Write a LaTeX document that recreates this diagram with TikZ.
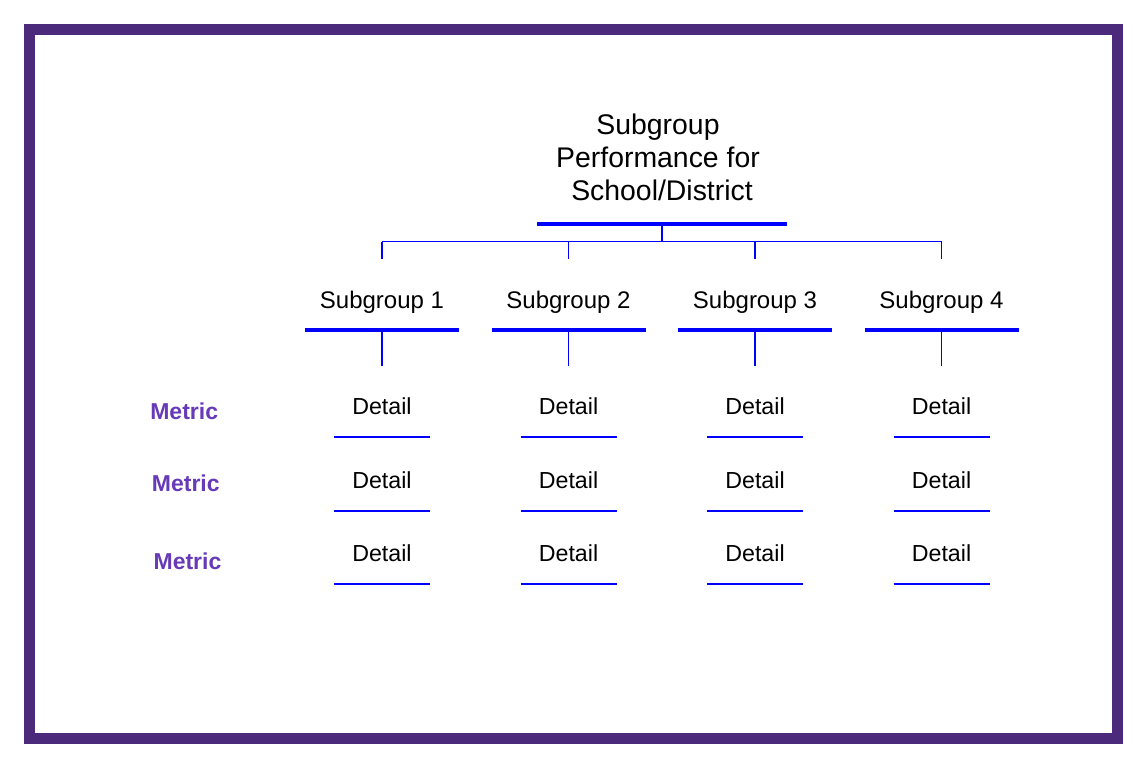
\documentclass[tikz,border=0pt]{standalone}
\usepackage{fontspec}
\setmainfont{Liberation Sans}
\definecolor{framec}{RGB}{75,42,123}
\definecolor{metricc}{RGB}{103,58,183}
\definecolor{linec}{RGB}{0,0,255}
\begin{document}
\begin{tikzpicture}[x=1pt,y=-1pt,
  txt/.style={anchor=base,inner sep=0pt,text=black},
  titletxt/.style={txt,font=\fontsize{28.4}{33}\selectfont},
  sgtxt/.style={txt,font=\fontsize{24}{29}\selectfont},
  dettxt/.style={txt,font=\fontsize{23.2}{28}\selectfont},
  mettxt/.style={anchor=base,inner sep=0pt,text=metricc,font=\fontsize{23}{28}\selectfont\bfseries},
  bigbar/.style={draw=linec,line width=4pt},
  thin/.style={draw=linec,line width=1.2pt},
  detbar/.style={draw=linec,line width=1.8pt}]
\useasboundingbox (0,0) rectangle (1147,769);
\fill[white] (0,0) rectangle (1147,769);
\draw[framec,line width=11pt] (29.5,29.5) rectangle (1117,738.5);
% title
\node[titletxt] (title1) at (658,134) {Subgroup};
\node[titletxt] (title2) at (658,167) {Performance for};
\node[titletxt] (title3) at (662,200) {School/District};
\coordinate (tbl) at (537,223.7);
\coordinate (tbr) at (787,223.7);
\coordinate (tb) at (662,223.7);
\draw[bigbar] (tbl) -- (tbr);
\coordinate (bus) at (662,241.7);
\draw[thin] (tb) -- (bus);
\coordinate (busl) at (382,241.7);
\coordinate (busr) at (941.5,241.7);
\draw[thin] (busl) -- (busr);
% columns
\foreach \i/\x in {1/382,2/568.5,3/755,4/941.5}{
  \coordinate (top\i) at (\x,241.7);
  \coordinate (drop\i) at (\x,259);
  \draw[thin] (top\i) -- (drop\i);
  \node[sgtxt] (sg\i) at (\x,308.3) {Subgroup \i};
  \coordinate (sgl\i) at (\x-77,330.3);
  \coordinate (sgr\i) at (\x+77,330.3);
  \coordinate (sgb\i) at (\x,330.3);
  \coordinate (sgd\i) at (\x,365.7);
  \draw[bigbar] (sgl\i) -- (sgr\i);
  \draw[thin] (sgb\i) -- (sgd\i);
  \foreach \r/\b/\l in {1/414.3/437.3,2/488.3/510.7,3/561.7/584}{
    \node[dettxt] (d\i\r) at (\x,\b) {Detail};
    \coordinate (dl\i\r) at (\x-48,\l);
    \coordinate (dr\i\r) at (\x+48,\l);
    \draw[detbar] (dl\i\r) -- (dr\i\r);
  }
}
% metrics
\node[mettxt] (m1) at (184.2,419) {Metric};
\node[mettxt] (m2) at (185.8,491) {Metric};
\node[mettxt] (m3) at (187.5,569.3) {Metric};
\end{tikzpicture}
\end{document}
